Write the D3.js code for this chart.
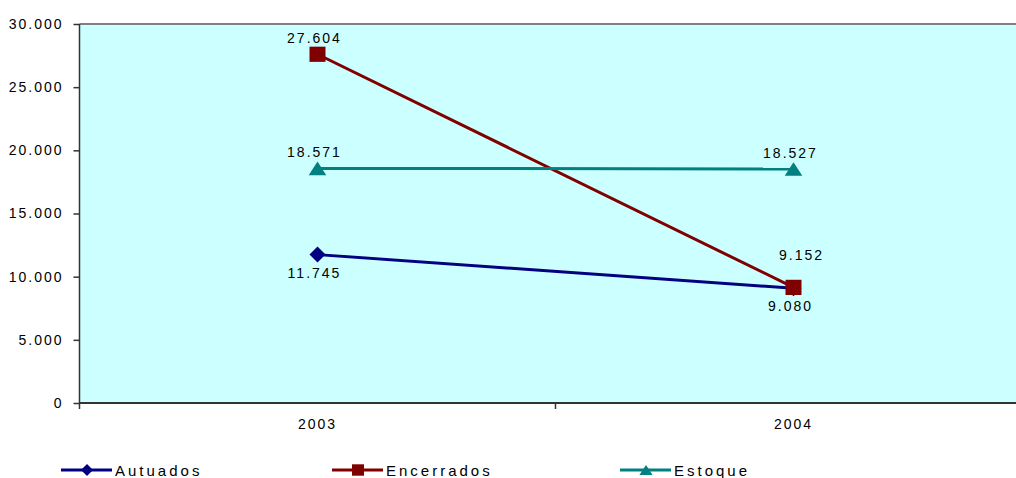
<!DOCTYPE html>
<html>
<head>
<meta charset="utf-8">
<script src="https://cdn.jsdelivr.net/npm/d3@7"></script>
<style>
  html, body { margin: 0; padding: 0; background: #fff; }
  svg { display: block; font-family: "Liberation Sans", Arial, sans-serif; }
</style>
</head>
<body>
<svg id="chart" width="1016" height="478"></svg>
<script>
// Years on the category axis
const years = ["2003", "2004"];
// Series values per year
const autuados = [11745, 9080];
const encerrados = [27604, 9152];
const estoque = [18571, 18527];
// Series names (legend order)
const seriesNames = ["Autuados", "Encerrados", "Estoque"];
// Y axis tick values
const yTicks = [0, 5000, 10000, 15000, 20000, 25000, 30000];

const series = [
  { name: seriesNames[0], values: autuados, color: "#000080", marker: "diamond", label: "below" },
  { name: seriesNames[1], values: encerrados, color: "#800000", marker: "square", label: "above" },
  { name: seriesNames[2], values: estoque, color: "#008080", marker: "triangle", label: "above" }
];

const svg = d3.select("#chart");
const plot = { left: 79.5, right: 1031.5, top: 24, bottom: 403 };

const pt = d3.formatLocale({ decimal: ",", thousands: ".", grouping: [3], currency: ["", ""] });
const fmt = pt.format(",d");

const x = d3.scaleBand().domain(years).range([plot.left, plot.right]).paddingInner(0).paddingOuter(0);
const xc = d => x(d) + x.bandwidth() / 2;
const y = d3.scaleLinear().domain([0, 30000]).range([plot.bottom, plot.top]);

// Plot background
svg.append("rect")
  .attr("x", plot.left).attr("y", plot.top)
  .attr("width", plot.right - plot.left).attr("height", plot.bottom - plot.top)
  .attr("fill", "#CCFFFF");

// Top border of the plot area
svg.append("line")
  .attr("x1", plot.left).attr("x2", plot.right)
  .attr("y1", plot.top).attr("y2", plot.top)
  .attr("stroke", "#808080").attr("stroke-width", 2);

// Y axis
const yAxis = svg.append("g")
  .attr("transform", `translate(${plot.left},0)`)
  .call(d3.axisLeft(y).tickValues(yTicks).tickFormat(fmt).tickSize(6).tickPadding(10));
yAxis.select(".domain").attr("stroke", "#333").attr("stroke-width", 1.5).attr("d", `M0,${plot.top}V${plot.bottom}`);
yAxis.selectAll(".tick line").attr("stroke", "#333").attr("stroke-width", 1.5);
yAxis.selectAll(".tick text")
  .attr("fill", "#000").style("font-size", "14px").style("letter-spacing", "2px")
  .style("font-family", "'Liberation Sans', Arial, sans-serif");

// X axis: category labels centred in each band
const xAxis = svg.append("g")
  .attr("transform", `translate(0,${plot.bottom})`)
  .call(d3.axisBottom(x).tickSize(0).tickPadding(16));
xAxis.select(".domain").remove();
xAxis.selectAll(".tick text")
  .attr("fill", "#000").style("font-size", "14px").style("letter-spacing", "2px")
  .style("font-family", "'Liberation Sans', Arial, sans-serif");

// X axis baseline and band-boundary tick marks
const bounds = years.map(d => x(d)).concat([x(years[years.length - 1]) + x.bandwidth()]);
svg.append("line")
  .attr("x1", plot.left).attr("x2", plot.right)
  .attr("y1", plot.bottom).attr("y2", plot.bottom)
  .attr("stroke", "#333").attr("stroke-width", 2);
svg.selectAll(".xb").data(bounds).enter().append("line")
  .attr("x1", d => d).attr("x2", d => d)
  .attr("y1", plot.bottom).attr("y2", plot.bottom + 6)
  .attr("stroke", "#333").attr("stroke-width", 1.5);

// Marker shapes
function markerPath(type, size) {
  const s = size / 2;
  if (type === "diamond") return `M0,${-s}L${s},0L0,${s}L${-s},0Z`;
  if (type === "square") return `M${-s},${-s * 0.95}H${s}V${s * 0.95}H${-s}Z`;
  return `M0,${-s * 0.85}L${s * 1.1},${s * 0.85}L${-s * 1.1},${s * 0.85}Z`;
}

const line = d3.line().x((d, i) => xc(years[i])).y(d => y(d));

series.forEach(s => {
  svg.append("path")
    .attr("d", line(s.values))
    .attr("fill", "none").attr("stroke", s.color).attr("stroke-width", 3);
  svg.selectAll(null).data(s.values).enter().append("path")
    .attr("transform", (d, i) => `translate(${xc(years[i])},${y(d)})`)
    .attr("d", markerPath(s.marker, 16))
    .attr("fill", s.color);
});

// Data labels; a label placed above a point that sits on top of another series' point is lifted clear
series.forEach((s, si) => {
  s.values.forEach((v, i) => {
    const px = xc(years[i]);
    const py = y(v);
    let dx = -3, dy;
    if (s.label === "below") {
      dy = 23;
    } else {
      dy = -11;
      const crowded = series.some((o, oi) => oi !== si && Math.abs(y(o.values[i]) - py) < 12);
      if (crowded) { dy = -27; dx = 8; }
    }
    svg.append("text")
      .attr("x", px + dx).attr("y", py + dy)
      .attr("text-anchor", "middle")
      .style("font-size", "14px").style("letter-spacing", "2px")
      .attr("fill", "#000")
      .text(fmt(v));
  });
});

// Legend along the bottom
const legendX = [61, 332, 620];
const legendY = 470;
series.forEach((s, i) => {
  const g = svg.append("g").attr("transform", `translate(${legendX[i]},${legendY})`);
  g.append("line").attr("x1", 0).attr("x2", 51).attr("y1", 0).attr("y2", 0)
    .attr("stroke", s.color).attr("stroke-width", 3);
  g.append("path").attr("transform", "translate(26,0)")
    .attr("d", markerPath(s.marker, 12)).attr("fill", s.color);
  g.append("text").attr("x", 54).attr("y", 6)
    .style("font-size", "15px").style("letter-spacing", "3px")
    .attr("fill", "#000")
    .text(s.name);
});
</script>
</body>
</html>
